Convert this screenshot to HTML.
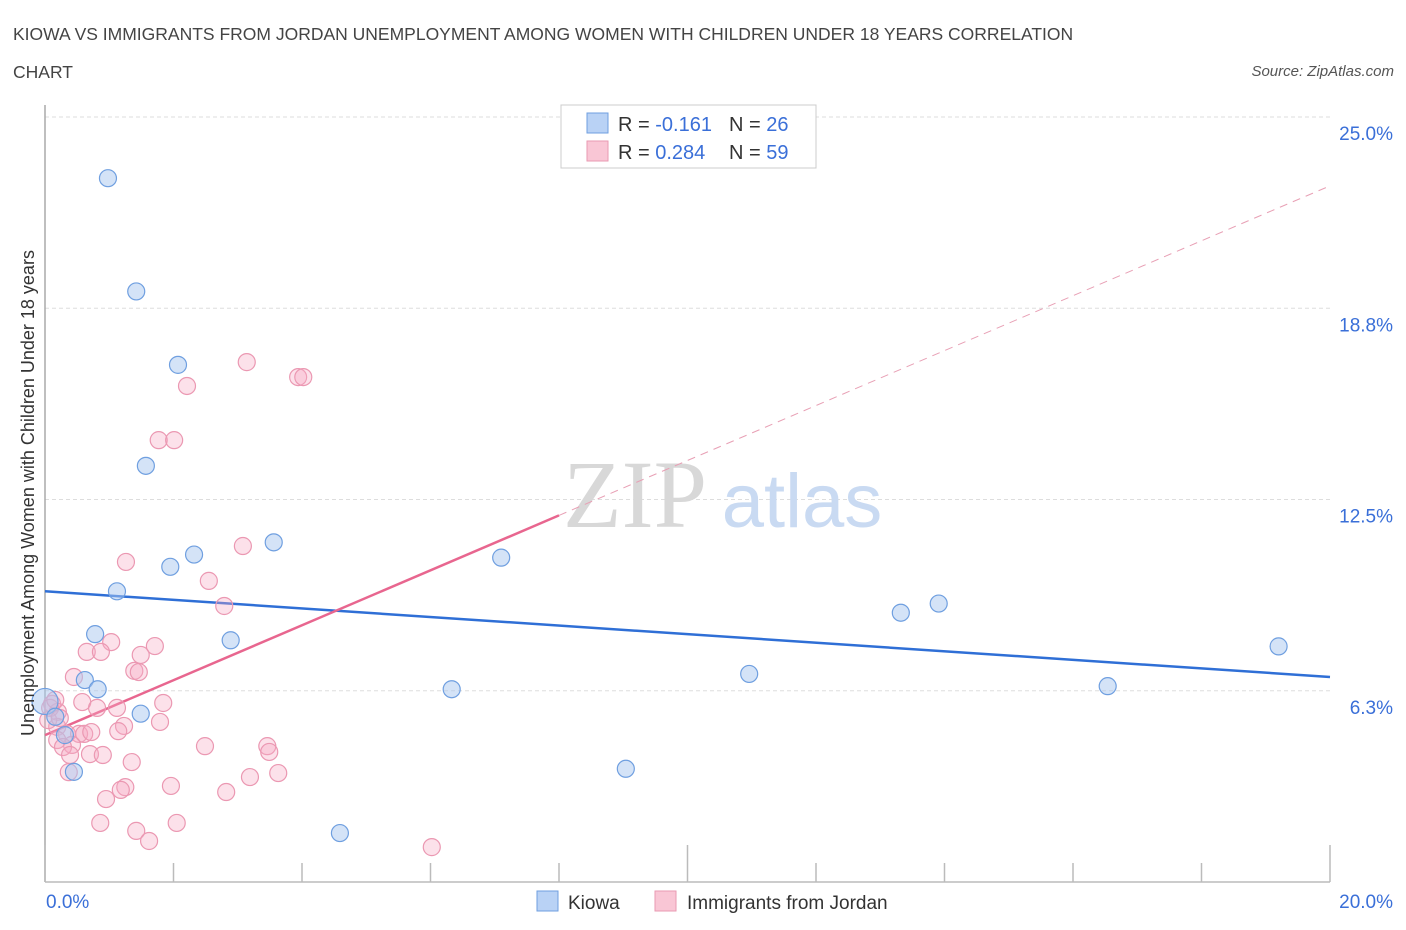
<!DOCTYPE html>
<html><head><meta charset="utf-8"><style>
body{margin:0;background:#fff;font-family:"Liberation Sans",sans-serif;}
svg{display:block}
</style></head><body>
<svg width="1406" height="930" viewBox="0 0 1406 930">
<text x="13" y="40" font-size="17.5" fill="#444">KIOWA VS IMMIGRANTS FROM JORDAN UNEMPLOYMENT AMONG WOMEN WITH CHILDREN UNDER 18 YEARS CORRELATION</text>
<text x="13" y="78" font-size="17.5" fill="#444">CHART</text>
<text x="1394" y="76" font-size="15" font-style="italic" fill="#555" text-anchor="end">Source: ZipAtlas.com</text>
<g id="grid"></g>
<text x="635" y="527" font-size="96" font-family="Liberation Serif,serif" fill="#d8d8d8" text-anchor="middle">ZIP</text>
<text x="802" y="527" font-size="76" fill="#c9daf2" text-anchor="middle">atlas</text>
<g id="axes"></g>
<g id="lines"></g>
<g id="pts"></g>
<g>
<rect x="561" y="105" width="255" height="63" fill="#fff" stroke="#ccc"/>
<rect x="587" y="113" width="21" height="20" fill="#b9d2f5" stroke="#6f9fe0"/>
<rect x="587" y="141" width="21" height="20" fill="#f9c6d5" stroke="#e99ab2"/>
<text x="618" y="131" font-size="20" fill="#333">R = <tspan fill="#3a6fd8">-0.161</tspan><tspan x="729">N = </tspan><tspan fill="#3a6fd8">26</tspan></text>
<text x="618" y="159" font-size="20" fill="#333">R = <tspan fill="#3a6fd8">0.284</tspan><tspan x="729">N = </tspan><tspan fill="#3a6fd8">59</tspan></text>
</g>
<g>
<rect x="537" y="891" width="21" height="20" fill="#b9d2f5" stroke="#6f9fe0"/>
<text x="568" y="909" font-size="19" fill="#333">Kiowa</text>
<rect x="655" y="891" width="21" height="20" fill="#f9c6d5" stroke="#e99ab2"/>
<text x="687" y="909" font-size="19" fill="#333">Immigrants from Jordan</text>
</g>
<text x="46" y="908" font-size="19" fill="#3a6fd8">0.0%</text>
<text x="1393" y="908" font-size="19" fill="#3a6fd8" text-anchor="end">20.0%</text>
<text transform="translate(34,493) rotate(-90)" font-size="18" fill="#333" text-anchor="middle">Unemployment Among Women with Children Under 18 years</text>
</svg>
<script>
const yTicks=[6.25,12.5,18.75,25];
const yTickLabels=["6.3%","12.5%","18.8%","25.0%"];
const xTicks=[0,2,4,6,8,10,12,14,16,18,20];
const kiowaX=[0.98,1.42,2.07,1.57,2.32,1.95,3.56,1.12,0.78,2.89,0.62,0.82,1.49,0.0,0.16,0.31,0.45,4.59,6.33,7.10,9.04,10.96,13.32,13.91,16.54,19.20];
const kiowaY=[23.0,19.3,16.9,13.6,10.7,10.3,11.1,9.5,8.1,7.9,6.6,6.3,5.5,5.9,5.4,4.8,3.6,1.6,6.3,10.6,3.7,6.8,8.8,9.1,6.4,7.7];
const jordanX=[3.14,2.21,3.94,4.02,1.77,2.01,1.26,3.08,2.55,2.79,1.03,1.71,0.65,0.87,1.49,0.45,1.39,1.46,1.84,0.58,0.81,1.12,1.79,1.23,0.11,0.20,0.08,0.19,0.34,0.53,0.61,0.72,1.14,0.42,0.19,0.28,0.70,0.90,0.39,2.49,3.46,3.49,1.35,0.37,3.19,3.63,0.95,1.25,1.18,1.96,2.82,0.86,2.05,1.42,1.62,6.02,0.16,0.05,0.23];
const jordanY=[16.99,16.21,16.5,16.5,14.44,14.44,10.46,10.98,9.84,9.02,7.84,7.71,7.52,7.52,7.42,6.7,6.9,6.86,5.85,5.88,5.69,5.69,5.23,5.1,5.82,5.56,5.69,5.07,4.84,4.84,4.84,4.9,4.93,4.48,4.64,4.41,4.18,4.15,4.15,4.44,4.44,4.25,3.92,3.59,3.43,3.56,2.71,3.1,3.01,3.14,2.94,1.93,1.93,1.67,1.34,1.14,5.95,5.29,5.36];
const kiowaTrend=[9.5,6.7];
const jordanTrend=[4.8,22.75];
const jordanSolidEnd=8.0;
const NS="http://www.w3.org/2000/svg";
const X=v=>45+v*64.25, Y=v=>882-v*30.6;
function mk(t,a,p){const e=document.createElementNS(NS,t);for(const k in a)e.setAttribute(k,a[k]);p.appendChild(e);return e;}
const grid=document.getElementById('grid'),axes=document.getElementById('axes'),lines=document.getElementById('lines'),pts=document.getElementById('pts');
yTicks.forEach((v,i)=>{
 const l=mk('line',{x1:45,x2:1330,y1:Y(v),y2:Y(v),stroke:'#ddd','stroke-dasharray':'4,3'},grid);
 
 
 const t=mk('text',{x:1393,y:Y(v)+23,'font-size':19,fill:'#3a6fd8','text-anchor':'end'},grid);
 t.textContent=yTickLabels[i];
 
 
});
const ya=mk('line',{x1:45,x2:45,y1:105,y2:882,stroke:'#aaa','stroke-width':1.5},axes);


const xa=mk('line',{x1:45,x2:1330,y1:882,y2:882,stroke:'#bbb','stroke-width':1.5},axes);


xTicks.forEach(v=>{
 const big=(v%10===0);
 const tk=mk('line',{x1:X(v),x2:X(v),y1:big?845:863,y2:882,stroke:'#bbb','stroke-width':1.5},axes);
 
 
});
const bl=mk('line',{x1:X(0),y1:Y(kiowaTrend[0]),x2:X(20),y2:Y(kiowaTrend[1]),stroke:'#2f6fd6','stroke-width':2.5},lines);


const pj=v=>jordanTrend[0]+(jordanTrend[1]-jordanTrend[0])*v/20;
const ps=mk('line',{x1:X(0),y1:Y(pj(0)),x2:X(jordanSolidEnd),y2:Y(pj(jordanSolidEnd)),stroke:'#e8668f','stroke-width':2.5},lines);


const pd=mk('line',{x1:X(jordanSolidEnd),y1:Y(pj(jordanSolidEnd)),x2:X(20),y2:Y(pj(20)),stroke:'#e8a0b5','stroke-width':1,'stroke-dasharray':'8,6'},lines);


jordanX.forEach((v,i)=>{
 const c=mk('circle',{cx:X(v),cy:Y(jordanY[i]),r:8.5,fill:'rgba(246,170,195,0.35)',stroke:'#eb98b2','stroke-width':1.2},pts);
 
 
});
kiowaX.forEach((v,i)=>{
 const c=mk('circle',{cx:X(v),cy:Y(kiowaY[i]),r:(v===0?13:8.5),fill:'rgba(170,200,240,0.5)',stroke:'#6f9fe0','stroke-width':1.2},pts);
 
 
});
</script>
</body></html>
